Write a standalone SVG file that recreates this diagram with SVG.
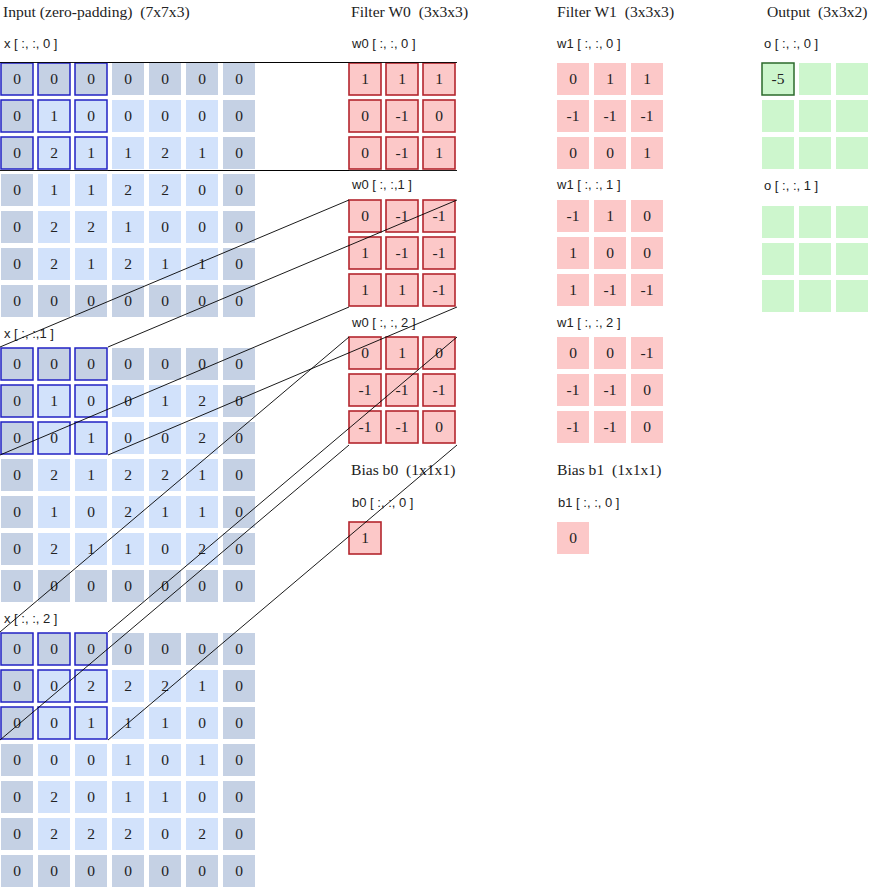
<svg xmlns="http://www.w3.org/2000/svg" xmlns:xlink="http://www.w3.org/1999/xlink" width="869" height="890" viewBox="0 0 869 890">
<style>
.title{font-family:"Liberation Serif","Times New Roman",serif;font-size:15.6px;fill:#222;white-space:pre}
.lab{font-family:"Liberation Sans",Arial,sans-serif;font-size:13px;fill:#222;white-space:pre}
.n{font-family:"Liberation Serif","Times New Roman",serif;font-size:15.5px;fill:#222;text-anchor:middle}
.pad{fill:#c5d1e4}
.in{fill:#d2e2fb}
.sel{fill:none;stroke:#2222c4;stroke-width:1.5}
.w0{fill:#fcc8c8;stroke:#b3262e;stroke-width:1.6}
.w1{fill:#fcc8c8}
.o{fill:#cdf6cd}
.osel{fill:#cdf6cd;stroke:#2b6a2b;stroke-width:1.5}
.conn line{stroke:#000;stroke-width:0.9}
</style>
<defs>
<rect id="p" width="32" height="32" class="pad"/>
<rect id="c" width="32" height="32" class="in"/>
<rect id="s" width="32" height="32" class="sel"/>
<rect id="f" width="32" height="32" class="w0"/>
<rect id="g" width="32" height="32" class="w1"/>
<rect id="q" width="32" height="32" class="o"/>
<g id="inbg">
<use href="#p" x="0" y="0"/><use href="#p" x="37" y="0"/><use href="#p" x="74" y="0"/><use href="#p" x="111" y="0"/><use href="#p" x="148" y="0"/><use href="#p" x="185" y="0"/><use href="#p" x="222" y="0"/>
<use href="#p" x="0" y="37"/><use href="#c" x="37" y="37"/><use href="#c" x="74" y="37"/><use href="#c" x="111" y="37"/><use href="#c" x="148" y="37"/><use href="#c" x="185" y="37"/><use href="#p" x="222" y="37"/>
<use href="#p" x="0" y="74"/><use href="#c" x="37" y="74"/><use href="#c" x="74" y="74"/><use href="#c" x="111" y="74"/><use href="#c" x="148" y="74"/><use href="#c" x="185" y="74"/><use href="#p" x="222" y="74"/>
<use href="#p" x="0" y="111"/><use href="#c" x="37" y="111"/><use href="#c" x="74" y="111"/><use href="#c" x="111" y="111"/><use href="#c" x="148" y="111"/><use href="#c" x="185" y="111"/><use href="#p" x="222" y="111"/>
<use href="#p" x="0" y="148"/><use href="#c" x="37" y="148"/><use href="#c" x="74" y="148"/><use href="#c" x="111" y="148"/><use href="#c" x="148" y="148"/><use href="#c" x="185" y="148"/><use href="#p" x="222" y="148"/>
<use href="#p" x="0" y="185"/><use href="#c" x="37" y="185"/><use href="#c" x="74" y="185"/><use href="#c" x="111" y="185"/><use href="#c" x="148" y="185"/><use href="#c" x="185" y="185"/><use href="#p" x="222" y="185"/>
<use href="#p" x="0" y="222"/><use href="#p" x="37" y="222"/><use href="#p" x="74" y="222"/><use href="#p" x="111" y="222"/><use href="#p" x="148" y="222"/><use href="#p" x="185" y="222"/><use href="#p" x="222" y="222"/>
<use href="#s" x="0" y="0"/><use href="#s" x="37" y="0"/><use href="#s" x="74" y="0"/>
<use href="#s" x="0" y="37"/><use href="#s" x="37" y="37"/><use href="#s" x="74" y="37"/>
<use href="#s" x="0" y="74"/><use href="#s" x="37" y="74"/><use href="#s" x="74" y="74"/>
</g>
<g id="fbg">
<use href="#f" x="0" y="0"/><use href="#f" x="37" y="0"/><use href="#f" x="74" y="0"/>
<use href="#f" x="0" y="37"/><use href="#f" x="37" y="37"/><use href="#f" x="74" y="37"/>
<use href="#f" x="0" y="74"/><use href="#f" x="37" y="74"/><use href="#f" x="74" y="74"/>
</g>
<g id="gbg">
<use href="#g" x="0" y="0"/><use href="#g" x="37" y="0"/><use href="#g" x="74" y="0"/>
<use href="#g" x="0" y="37"/><use href="#g" x="37" y="37"/><use href="#g" x="74" y="37"/>
<use href="#g" x="0" y="74"/><use href="#g" x="37" y="74"/><use href="#g" x="74" y="74"/>
</g>
</defs>
<rect width="869" height="890" fill="#fff"/>

<g id="labels">
<text class="title" x="3" y="17">Input (zero-padding)  (7x7x3)</text>
<text class="title" x="351" y="17">Filter W0  (3x3x3)</text>
<text class="title" x="557" y="17">Filter W1  (3x3x3)</text>
<text class="title" x="767" y="17">Output  (3x3x2)</text>
<text class="lab" x="4" y="48">x [ :, :, 0 ]</text>
<text class="lab" x="4" y="338">x [ :, :,1 ]</text>
<text class="lab" x="4" y="623">x [ :, :, 2 ]</text>
<text class="lab" x="352" y="48">w0 [ :, :, 0 ]</text>
<text class="lab" x="352" y="189">w0 [ :, :,1 ]</text>
<text class="lab" x="352" y="327">w0 [ :, :, 2 ]</text>
<text class="lab" x="557" y="48">w1 [ :, :, 0 ]</text>
<text class="lab" x="557" y="189">w1 [ :, :, 1 ]</text>
<text class="lab" x="557" y="327">w1 [ :, :, 2 ]</text>
<text class="title" x="351" y="475">Bias b0  (1x1x1)</text>
<text class="title" x="557" y="475">Bias b1  (1x1x1)</text>
<text class="lab" x="352" y="507">b0 [ :, :, 0 ]</text>
<text class="lab" x="558" y="507">b1 [ :, :, 0 ]</text>
<text class="lab" x="764" y="48">o [ :, :, 0 ]</text>
<text class="lab" x="764" y="190">o [ :, :, 1 ]</text>
</g>

<g id="x0" transform="translate(1,63)">
<use href="#inbg"/>
<text class="n" x="16" y="21">0</text><text class="n" x="53" y="21">0</text><text class="n" x="90" y="21">0</text><text class="n" x="127" y="21">0</text><text class="n" x="164" y="21">0</text><text class="n" x="201" y="21">0</text><text class="n" x="238" y="21">0</text>
<text class="n" x="16" y="58">0</text><text class="n" x="53" y="58">1</text><text class="n" x="90" y="58">0</text><text class="n" x="127" y="58">0</text><text class="n" x="164" y="58">0</text><text class="n" x="201" y="58">0</text><text class="n" x="238" y="58">0</text>
<text class="n" x="16" y="95">0</text><text class="n" x="53" y="95">2</text><text class="n" x="90" y="95">1</text><text class="n" x="127" y="95">1</text><text class="n" x="164" y="95">2</text><text class="n" x="201" y="95">1</text><text class="n" x="238" y="95">0</text>
<text class="n" x="16" y="132">0</text><text class="n" x="53" y="132">1</text><text class="n" x="90" y="132">1</text><text class="n" x="127" y="132">2</text><text class="n" x="164" y="132">2</text><text class="n" x="201" y="132">0</text><text class="n" x="238" y="132">0</text>
<text class="n" x="16" y="169">0</text><text class="n" x="53" y="169">2</text><text class="n" x="90" y="169">2</text><text class="n" x="127" y="169">1</text><text class="n" x="164" y="169">0</text><text class="n" x="201" y="169">0</text><text class="n" x="238" y="169">0</text>
<text class="n" x="16" y="206">0</text><text class="n" x="53" y="206">2</text><text class="n" x="90" y="206">1</text><text class="n" x="127" y="206">2</text><text class="n" x="164" y="206">1</text><text class="n" x="201" y="206">1</text><text class="n" x="238" y="206">0</text>
<text class="n" x="16" y="243">0</text><text class="n" x="53" y="243">0</text><text class="n" x="90" y="243">0</text><text class="n" x="127" y="243">0</text><text class="n" x="164" y="243">0</text><text class="n" x="201" y="243">0</text><text class="n" x="238" y="243">0</text>
</g>

<g id="x1" transform="translate(1,348)">
<use href="#inbg"/>
<text class="n" x="16" y="21">0</text><text class="n" x="53" y="21">0</text><text class="n" x="90" y="21">0</text><text class="n" x="127" y="21">0</text><text class="n" x="164" y="21">0</text><text class="n" x="201" y="21">0</text><text class="n" x="238" y="21">0</text>
<text class="n" x="16" y="58">0</text><text class="n" x="53" y="58">1</text><text class="n" x="90" y="58">0</text><text class="n" x="127" y="58">0</text><text class="n" x="164" y="58">1</text><text class="n" x="201" y="58">2</text><text class="n" x="238" y="58">0</text>
<text class="n" x="16" y="95">0</text><text class="n" x="53" y="95">0</text><text class="n" x="90" y="95">1</text><text class="n" x="127" y="95">0</text><text class="n" x="164" y="95">0</text><text class="n" x="201" y="95">2</text><text class="n" x="238" y="95">0</text>
<text class="n" x="16" y="132">0</text><text class="n" x="53" y="132">2</text><text class="n" x="90" y="132">1</text><text class="n" x="127" y="132">2</text><text class="n" x="164" y="132">2</text><text class="n" x="201" y="132">1</text><text class="n" x="238" y="132">0</text>
<text class="n" x="16" y="169">0</text><text class="n" x="53" y="169">1</text><text class="n" x="90" y="169">0</text><text class="n" x="127" y="169">2</text><text class="n" x="164" y="169">1</text><text class="n" x="201" y="169">1</text><text class="n" x="238" y="169">0</text>
<text class="n" x="16" y="206">0</text><text class="n" x="53" y="206">2</text><text class="n" x="90" y="206">1</text><text class="n" x="127" y="206">1</text><text class="n" x="164" y="206">0</text><text class="n" x="201" y="206">2</text><text class="n" x="238" y="206">0</text>
<text class="n" x="16" y="243">0</text><text class="n" x="53" y="243">0</text><text class="n" x="90" y="243">0</text><text class="n" x="127" y="243">0</text><text class="n" x="164" y="243">0</text><text class="n" x="201" y="243">0</text><text class="n" x="238" y="243">0</text>
</g>

<g id="x2" transform="translate(1,633)">
<use href="#inbg"/>
<text class="n" x="16" y="21">0</text><text class="n" x="53" y="21">0</text><text class="n" x="90" y="21">0</text><text class="n" x="127" y="21">0</text><text class="n" x="164" y="21">0</text><text class="n" x="201" y="21">0</text><text class="n" x="238" y="21">0</text>
<text class="n" x="16" y="58">0</text><text class="n" x="53" y="58">0</text><text class="n" x="90" y="58">2</text><text class="n" x="127" y="58">2</text><text class="n" x="164" y="58">2</text><text class="n" x="201" y="58">1</text><text class="n" x="238" y="58">0</text>
<text class="n" x="16" y="95">0</text><text class="n" x="53" y="95">0</text><text class="n" x="90" y="95">1</text><text class="n" x="127" y="95">1</text><text class="n" x="164" y="95">1</text><text class="n" x="201" y="95">0</text><text class="n" x="238" y="95">0</text>
<text class="n" x="16" y="132">0</text><text class="n" x="53" y="132">0</text><text class="n" x="90" y="132">0</text><text class="n" x="127" y="132">1</text><text class="n" x="164" y="132">0</text><text class="n" x="201" y="132">1</text><text class="n" x="238" y="132">0</text>
<text class="n" x="16" y="169">0</text><text class="n" x="53" y="169">2</text><text class="n" x="90" y="169">0</text><text class="n" x="127" y="169">1</text><text class="n" x="164" y="169">1</text><text class="n" x="201" y="169">0</text><text class="n" x="238" y="169">0</text>
<text class="n" x="16" y="206">0</text><text class="n" x="53" y="206">2</text><text class="n" x="90" y="206">2</text><text class="n" x="127" y="206">2</text><text class="n" x="164" y="206">0</text><text class="n" x="201" y="206">2</text><text class="n" x="238" y="206">0</text>
<text class="n" x="16" y="243">0</text><text class="n" x="53" y="243">0</text><text class="n" x="90" y="243">0</text><text class="n" x="127" y="243">0</text><text class="n" x="164" y="243">0</text><text class="n" x="201" y="243">0</text><text class="n" x="238" y="243">0</text>
</g>

<g id="w0c0" transform="translate(349,63)">
<use href="#fbg"/>
<text class="n" x="16" y="21">1</text><text class="n" x="53" y="21">1</text><text class="n" x="90" y="21">1</text>
<text class="n" x="16" y="58">0</text><text class="n" x="53" y="58">-1</text><text class="n" x="90" y="58">0</text>
<text class="n" x="16" y="95">0</text><text class="n" x="53" y="95">-1</text><text class="n" x="90" y="95">1</text>
</g>
<g id="w0c1" transform="translate(349,200)">
<use href="#fbg"/>
<text class="n" x="16" y="21">0</text><text class="n" x="53" y="21">-1</text><text class="n" x="90" y="21">-1</text>
<text class="n" x="16" y="58">1</text><text class="n" x="53" y="58">-1</text><text class="n" x="90" y="58">-1</text>
<text class="n" x="16" y="95">1</text><text class="n" x="53" y="95">1</text><text class="n" x="90" y="95">-1</text>
</g>
<g id="w0c2" transform="translate(349,337)">
<use href="#fbg"/>
<text class="n" x="16" y="21">0</text><text class="n" x="53" y="21">1</text><text class="n" x="90" y="21">0</text>
<text class="n" x="16" y="58">-1</text><text class="n" x="53" y="58">-1</text><text class="n" x="90" y="58">-1</text>
<text class="n" x="16" y="95">-1</text><text class="n" x="53" y="95">-1</text><text class="n" x="90" y="95">0</text>
</g>
<g id="b0" transform="translate(349,522)">
<use href="#f"/>
<text class="n" x="16" y="21">1</text>
</g>

<g id="w1c0" transform="translate(557,63)">
<use href="#gbg"/>
<text class="n" x="16" y="21">0</text><text class="n" x="53" y="21">1</text><text class="n" x="90" y="21">1</text>
<text class="n" x="16" y="58">-1</text><text class="n" x="53" y="58">-1</text><text class="n" x="90" y="58">-1</text>
<text class="n" x="16" y="95">0</text><text class="n" x="53" y="95">0</text><text class="n" x="90" y="95">1</text>
</g>
<g id="w1c1" transform="translate(557,200)">
<use href="#gbg"/>
<text class="n" x="16" y="21">-1</text><text class="n" x="53" y="21">1</text><text class="n" x="90" y="21">0</text>
<text class="n" x="16" y="58">1</text><text class="n" x="53" y="58">0</text><text class="n" x="90" y="58">0</text>
<text class="n" x="16" y="95">1</text><text class="n" x="53" y="95">-1</text><text class="n" x="90" y="95">-1</text>
</g>
<g id="w1c2" transform="translate(557,337)">
<use href="#gbg"/>
<text class="n" x="16" y="21">0</text><text class="n" x="53" y="21">0</text><text class="n" x="90" y="21">-1</text>
<text class="n" x="16" y="58">-1</text><text class="n" x="53" y="58">-1</text><text class="n" x="90" y="58">0</text>
<text class="n" x="16" y="95">-1</text><text class="n" x="53" y="95">-1</text><text class="n" x="90" y="95">0</text>
</g>
<g id="b1" transform="translate(557,522)">
<use href="#g"/>
<text class="n" x="16" y="21">0</text>
</g>

<g id="o0" transform="translate(762,63)">
<rect class="osel" x="0" y="0" width="32" height="32"/><use href="#q" x="37" y="0"/><use href="#q" x="74" y="0"/>
<use href="#q" x="0" y="37"/><use href="#q" x="37" y="37"/><use href="#q" x="74" y="37"/>
<use href="#q" x="0" y="74"/><use href="#q" x="37" y="74"/><use href="#q" x="74" y="74"/>
<text class="n" x="16" y="21">-5</text>
</g>
<g id="o1" transform="translate(762,206)">
<use href="#q" x="0" y="0"/><use href="#q" x="37" y="0"/><use href="#q" x="74" y="0"/>
<use href="#q" x="0" y="37"/><use href="#q" x="37" y="37"/><use href="#q" x="74" y="37"/>
<use href="#q" x="0" y="74"/><use href="#q" x="37" y="74"/><use href="#q" x="74" y="74"/>
</g>

<g id="connectors" class="conn">
<line x1="0" y1="62.5" x2="349" y2="62.5"/>
<line x1="108" y1="62.5" x2="457" y2="62.5"/>
<line x1="0" y1="170.5" x2="349" y2="170.5"/>
<line x1="108" y1="170.5" x2="457" y2="170.5"/>
<line x1="0" y1="347" x2="349" y2="200"/>
<line x1="108" y1="347" x2="457" y2="200"/>
<line x1="0" y1="455" x2="349" y2="307"/>
<line x1="108" y1="455" x2="457" y2="307"/>
<line x1="0" y1="632" x2="349" y2="337"/>
<line x1="108" y1="632" x2="457" y2="337"/>
<line x1="0" y1="740" x2="349" y2="445"/>
<line x1="108" y1="740" x2="457" y2="445"/>
</g>
</svg>
